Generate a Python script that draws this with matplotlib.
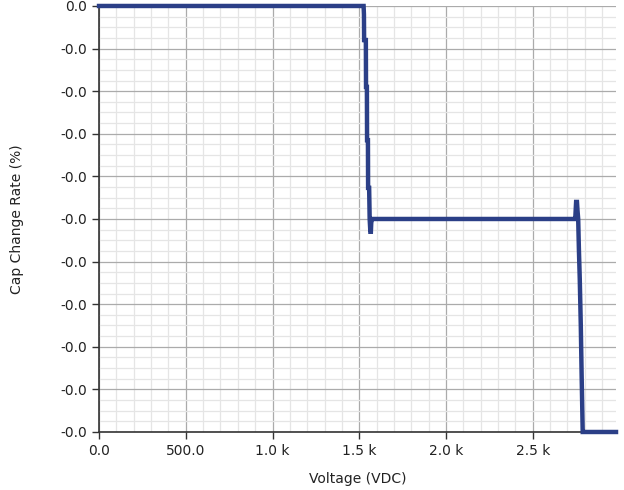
import matplotlib
matplotlib.use("Agg")
import matplotlib.pyplot as plt
from matplotlib.ticker import FuncFormatter, MultipleLocator, AutoMinorLocator

# Data (voltage in V, capacitance change rate in %)
voltage = [0, 1525, 1527, 1528, 1538, 1539, 1544, 1545, 1550, 1551, 1557, 1560,
           1564, 1567, 1569, 1572, 1578, 2740, 2745, 2750, 2755, 2758, 2762,
           2766, 2771, 2777, 2782, 2788, 2794, 2800, 2980]
cap_change = [0.0, 0.0, -0.0002, -0.0008, -0.0008, -0.0019, -0.0019, -0.00315,
              -0.00315, -0.00427, -0.00427, -0.0050, -0.0053, -0.0053, -0.0051,
              -0.0050, -0.0050, -0.0050, -0.0050, -0.0046, -0.0046, -0.0048,
              -0.0050, -0.0057, -0.0064, -0.0075, -0.0087, -0.0100, -0.0100,
              -0.0100, -0.0100]

x_ticks = [0, 500, 1000, 1500, 2000, 2500]
y_ticks = [0.0, -0.001, -0.002, -0.003, -0.004, -0.005, -0.006, -0.007,
           -0.008, -0.009, -0.010]

fig = plt.figure(figsize=(6.24, 4.9), dpi=100)
ax = fig.add_axes([0.1587, 0.1184, 0.8285, 0.8694])

ax.plot(voltage, cap_change, color="#2b3f87", lw=3.2, solid_joinstyle="miter",
        zorder=3, clip_on=False)

ax.set_xlim(0, 2980)
ax.set_ylim(-0.010, 0.0)
ax.set_xticks(x_ticks)
ax.set_yticks(y_ticks)
ax.xaxis.set_minor_locator(MultipleLocator(100))
ax.yaxis.set_minor_locator(AutoMinorLocator(4))


def xfmt(v, pos):
    if abs(v) >= 1000:
        return f"{v/1000:.1f} k"
    return f"{v:.1f}"


def yfmt(v, pos):
    s = f"{v:.1f}"
    if v < 0 and s == "0.0":
        s = "-0.0"
    return s


ax.xaxis.set_major_formatter(FuncFormatter(xfmt))
ax.yaxis.set_major_formatter(FuncFormatter(yfmt))

ax.grid(which="major", color="#ababab", lw=0.9)
ax.grid(which="minor", color="#e5e5e5", lw=0.9)
ax.set_axisbelow(True)

for s in ["top", "right"]:
    ax.spines[s].set_visible(False)
for s in ["left", "bottom"]:
    ax.spines[s].set_color("#333333")
    ax.spines[s].set_linewidth(1.2)

ax.tick_params(which="major", length=5, width=1, color="#333333",
               labelsize=10, labelcolor="#222222")
ax.tick_params(which="minor", length=0)

ax.set_xlabel("Voltage (VDC)", fontsize=10, color="#222222", labelpad=10)
ax.set_ylabel("Cap Change Rate (%)", fontsize=10, color="#222222", labelpad=26)

fig.savefig("out.png", dpi=100)
